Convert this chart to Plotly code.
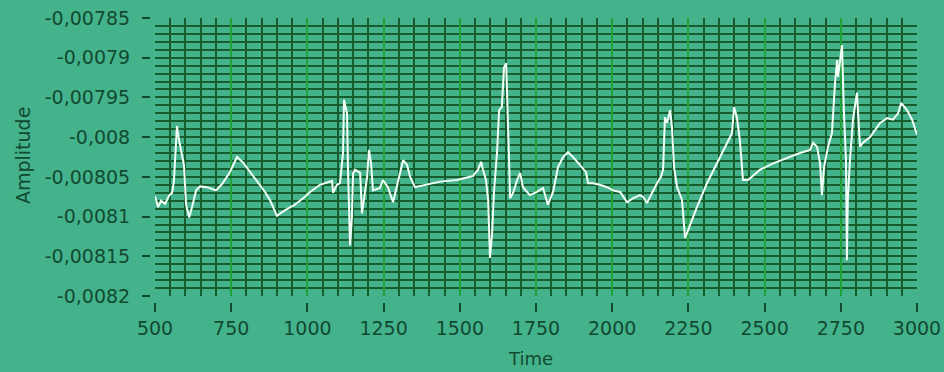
import plotly.graph_objects as go

time = [500, 510, 520, 533, 546, 556, 562, 572, 579, 585, 595, 602, 612, 621, 635, 648, 671, 700, 720, 746,
        769, 789, 812, 838, 861, 877, 900, 927, 959, 992, 1009, 1041, 1081, 1084, 1097, 1107, 1117, 1120, 1130, 1133,
        1140, 1146, 1150, 1156, 1166, 1173, 1179, 1186, 1196, 1202, 1209, 1215, 1238, 1248, 1264, 1281, 1297, 1314, 1327, 1337,
        1353, 1392, 1435, 1491, 1543, 1560, 1570, 1576, 1586, 1593, 1599, 1606, 1612, 1622, 1629, 1638, 1645, 1652, 1655, 1661,
        1665, 1675, 1688, 1698, 1707, 1730, 1753, 1773, 1789, 1806, 1822, 1839, 1855, 1871, 1894, 1914, 1921, 1937, 1960, 1983,
        2003, 2026, 2049, 2068, 2091, 2101, 2114, 2131, 2147, 2160, 2167, 2173, 2180, 2190, 2196, 2203, 2213, 2229, 2239, 2249,
        2278, 2311, 2344, 2377, 2393, 2400, 2409, 2419, 2429, 2446, 2485, 2528, 2573, 2616, 2649, 2659, 2672, 2682, 2688, 2695,
        2708, 2721, 2731, 2738, 2741, 2747, 2754, 2760, 2767, 2770, 2773, 2780, 2790, 2803, 2806, 2813, 2823, 2846, 2879, 2902,
        2921, 2938, 2948, 2967, 2984, 3000]

amplitude = [-0.008074, -0.008088, -0.008080, -0.008084, -0.008074, -0.008070, -0.008056, -0.007986, -0.008004, -0.008016,
             -0.008035, -0.008085, -0.008101, -0.008089, -0.008067, -0.008062, -0.008063, -0.008067, -0.008059, -0.008044,
             -0.008025, -0.008032, -0.008044, -0.008056, -0.008069, -0.008079, -0.008099, -0.008092, -0.008085, -0.008075,
             -0.008069, -0.008060, -0.008055, -0.008070, -0.008060, -0.008058, -0.008020, -0.007953, -0.007970, -0.008038,
             -0.008136, -0.008101, -0.008045, -0.008041, -0.008044, -0.008045, -0.008096, -0.008079, -0.008050, -0.008016,
             -0.008033, -0.008067, -0.008064, -0.008054, -0.008063, -0.008082, -0.008058, -0.008029, -0.008035, -0.008050,
             -0.008063, -0.008060, -0.008056, -0.008054, -0.008049, -0.008041, -0.008031, -0.008041, -0.008054, -0.008079,
             -0.008152, -0.008121, -0.008070, -0.008020, -0.007966, -0.007962, -0.007912, -0.007907, -0.007957, -0.008020,
             -0.008077, -0.008070, -0.008054, -0.008045, -0.008063, -0.008073, -0.008069, -0.008064, -0.008085, -0.008069,
             -0.008038, -0.008025, -0.008019, -0.008025, -0.008035, -0.008044, -0.008058, -0.008058, -0.008060, -0.008063,
             -0.008067, -0.008069, -0.008082, -0.008077, -0.008073, -0.008075, -0.008083, -0.008070, -0.008058, -0.008050,
             -0.008041, -0.007975, -0.007982, -0.007966, -0.007987, -0.008038, -0.008063, -0.008079, -0.008127, -0.008117,
             -0.008088, -0.008058, -0.008033, -0.008007, -0.007995, -0.007962, -0.007975, -0.008004, -0.008054, -0.008054,
             -0.008041, -0.008033, -0.008026, -0.008020, -0.008016, -0.008007, -0.008012, -0.008033, -0.008073, -0.008038,
             -0.008012, -0.007995, -0.007932, -0.007903, -0.007924, -0.007903, -0.007884, -0.007966, -0.008029, -0.008155,
             -0.008079, -0.008029, -0.007978, -0.007944, -0.007966, -0.008012, -0.008007, -0.008000, -0.007982, -0.007976,
             -0.007978, -0.007970, -0.007957, -0.007966, -0.007978, -0.007997]

x_ticks = [500, 750, 1000, 1250, 1500, 1750, 2000, 2250, 2500, 2750, 3000]
x_labels = ["500", "750", "1000", "1250", "1500", "1750", "2000", "2250", "2500", "2750", "3000"]
y_ticks = [-0.0082, -0.00815, -0.0081, -0.00805, -0.008, -0.00795, -0.0079, -0.00785]
y_labels = ["-0,0082", "-0,00815", "-0,0081", "-0,00805", "-0,008", "-0,00795", "-0,0079", "-0,00785"]

x_range = [500, 3000]
y_range = [-0.0082, -0.00785]

# grid lines (interior only; the frame edges carry no grid line)
x_major_grid = x_ticks[1:-1]
x_minor_grid = [x_range[0] + 50 * k for k in range(1, 50) if (50 * k) % 250 != 0]
y_major_grid = y_ticks[1:-1]
y_minor_grid = [round(y_range[0] + 0.00001 * k, 7) for k in range(1, 35) if k % 5 != 0]

BG = "#44b38c"
DARK = "#175c2c"
MAJOR_V = "#22a03a"
TXT = "#114a30"
FONT = "DejaVu Sans"

W, H = 944, 372
L, R, T, B = 150, 27, 18, 70
pw = W - L - R
ph = H - T - B
xd0 = 5 / pw
yd0 = 6 / ph

fig = go.Figure()
fig.add_trace(go.Scatter(x=time, y=amplitude, mode="lines",
                         line=dict(color="#f2fff6", width=2), showlegend=False,
                         hoverinfo="skip"))
fig.add_trace(go.Scatter(x=[], y=[], xaxis="x2", yaxis="y2", showlegend=False,
                         hoverinfo="skip"))

fig.update_layout(
    template="none",
    width=W, height=H,
    margin=dict(l=L, r=R, t=T, b=B, pad=0),
    paper_bgcolor=BG, plot_bgcolor=BG,
    font=dict(family=FONT, size=19, color=TXT),
    xaxis=dict(range=x_range, domain=[xd0, 1], tickvals=x_major_grid, showticklabels=False,
               ticks="", showgrid=True, gridcolor=MAJOR_V, gridwidth=2, automargin=False,
               zeroline=False, showline=False,
               minor=dict(tickvals=x_minor_grid, showgrid=True, gridcolor=DARK, gridwidth=2, ticks="")),
    yaxis=dict(range=y_range, domain=[yd0, 1], tickvals=y_major_grid, showticklabels=False,
               ticks="", showgrid=True, gridcolor=DARK, gridwidth=2, automargin=False,
               zeroline=False, showline=False,
               minor=dict(tickvals=y_minor_grid, showgrid=True, gridcolor=DARK, gridwidth=2, ticks="")),
    xaxis2=dict(range=x_range, overlaying="x", anchor="free", position=0, side="bottom",
                tickvals=x_ticks, ticktext=x_labels, ticks="outside", ticklen=9, tickwidth=2,
                tickcolor=TXT, showgrid=False, zeroline=False, showline=False, automargin=False,
                tickfont=dict(family=FONT, size=19, color=TXT)),
    yaxis2=dict(range=y_range, overlaying="y", anchor="free", position=0, side="left",
                tickvals=y_ticks, ticktext=y_labels, ticks="outside", ticklen=8, tickwidth=2,
                tickcolor=TXT, showgrid=False, zeroline=False, showline=False, automargin=False,
                ticklabelstandoff=8,
                tickfont=dict(family=FONT, size=19, color=TXT)),
    annotations=[
        dict(text="Amplitude", textangle=-90, xref="paper", yref="paper",
             x=(23 - L) / pw, y=(T + ph - 156) / ph, showarrow=False,
             font=dict(family=FONT, size=19, color=TXT), xanchor="center", yanchor="middle"),
        dict(text="Time", xref="paper", yref="paper",
             x=(530 - L) / pw, y=(T + ph - 358) / ph, showarrow=False,
             font=dict(family=FONT, size=18, color=TXT), xanchor="center", yanchor="middle"),
    ],
)

fig.write_html("out.html")
